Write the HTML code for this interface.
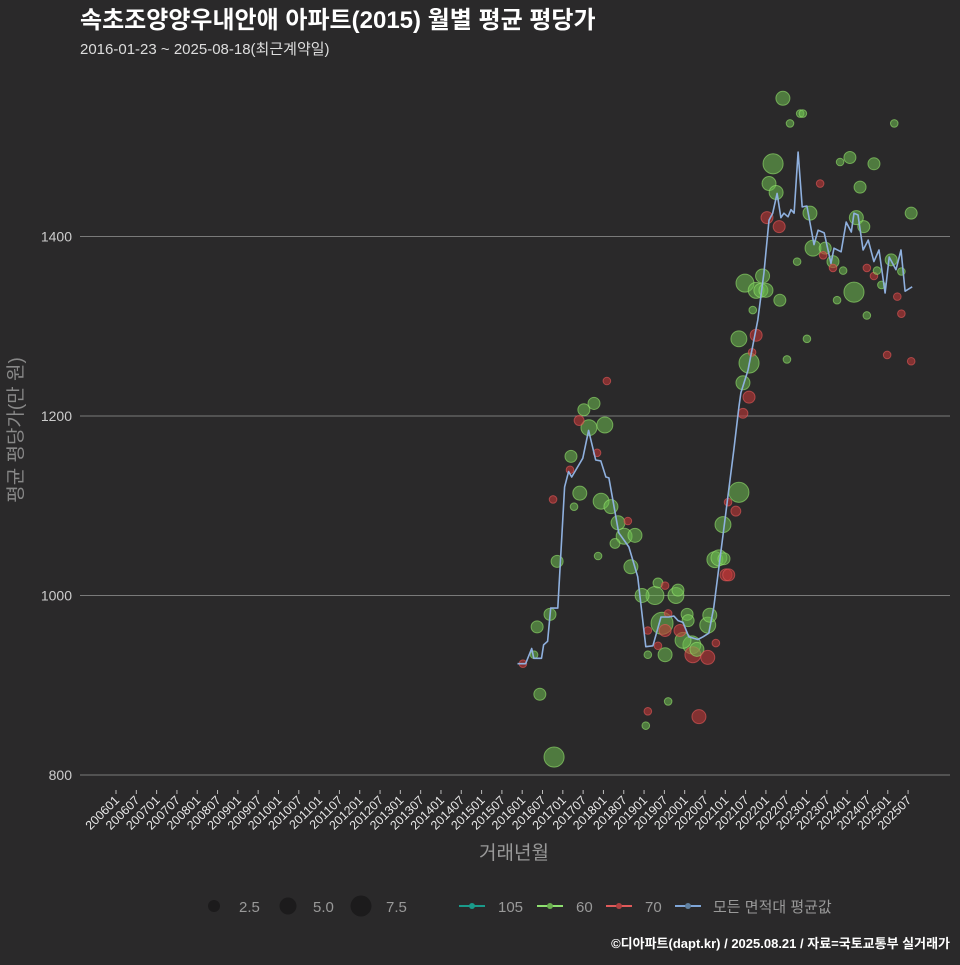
<!DOCTYPE html>
<html><head><meta charset="utf-8"><style>
body{margin:0;background:#2a292a;}
svg text{font-family:"Liberation Sans","Noto Sans CJK KR",sans-serif;}
</style></head><body>
<svg id="chart" width="960" height="960" xmlns="http://www.w3.org/2000/svg">
<rect width="960" height="960" fill="#2a292a"/>
<text x="80" y="28" font-size="24" font-weight="bold" fill="#ffffff">속초조양양우내안애 아파트(2015) 월별 평균 평당가</text>
<text x="80" y="54" font-size="15" fill="#dddddd">2016-01-23 ~ 2025-08-18(최근계약일)</text>
<g id="grid"></g>
<g id="xaxis"></g>
<g id="marks"></g>
<text transform="translate(22,430) rotate(-90)" text-anchor="middle" font-size="19" fill="#888">평균 평당가(만 원)</text>
<text x="514" y="859" text-anchor="middle" font-size="19" fill="#999">거래년월</text>
<g>
<circle cx="214" cy="906" r="6" fill="#1c1b1c"/>
<text x="239" y="912" font-size="15" fill="#999">2.5</text>
<circle cx="288" cy="906" r="8.5" fill="#1c1b1c"/>
<text x="313" y="912" font-size="15" fill="#999">5.0</text>
<circle cx="361" cy="906" r="10.5" fill="#1c1b1c"/>
<text x="386" y="912" font-size="15" fill="#999">7.5</text>
</g>
<g>
<g><line x1="459" y1="906" x2="485" y2="906" stroke="#1a9a8a" stroke-width="2"/><circle cx="472" cy="906" r="3" fill="#1a9a8a"/><text x="498" y="912" font-size="15" fill="#999">105</text></g>
<g><line x1="537" y1="906" x2="563" y2="906" stroke="#8ee070" stroke-width="2"/><circle cx="550" cy="906" r="3" fill="#6cb050"/><text x="576" y="912" font-size="15" fill="#999">60</text></g>
<g><line x1="606" y1="906" x2="632" y2="906" stroke="#e05a5a" stroke-width="2"/><circle cx="619" cy="906" r="3" fill="#b04040"/><text x="645" y="912" font-size="15" fill="#999">70</text></g>
<g><line x1="675" y1="906" x2="701" y2="906" stroke="#7fa6d8" stroke-width="2"/><circle cx="688" cy="906" r="3" fill="#6080a0"/><text x="713" y="912" font-size="15" fill="#999">모든 면적대 평균값</text></g>
</g>
<text x="950" y="948" text-anchor="end" font-size="13" font-weight="bold" fill="#ffffff">©디아파트(dapt.kr) / 2025.08.21 / 자료=국토교통부 실거래가</text>
</svg>
<script>
// month index: 0 = 2006-01 (fraction = part of month)
const yTicks = [800, 1000, 1200, 1400];
const lineMonth = [119.5,121.9,123.7,124.3,126.6,127.2,128.4,129.3,131.4,133.4,134.6,135.5,138.8,140.5,142.6,144.1,145.6,146.5,149.4,152.4,155,157.4,159.5,161.9,164.2,165.7,166.9,168.4,170.1,172.8,174.3,176,177.5,180.5,183.4,184.9,185.5,187.6,190.5,192.3,193.8,194.9,196.2,197.3,198.2,199.4,200.3,201.2,202.4,203.6,205,207.1,208.3,210.1,212.1,213,215.1,216.6,218.1,218.9,220.1,221.6,223.1,224.8,226.3,228.1,229.3,231.3,232.8,234,236.1];
const lineValue = [924,924,941,930,930,945,949,986,986,1121,1138,1132,1153,1184,1151,1150,1132,1131,1070,1054,1021,943,944,976,976,977,972,970,954,951,954,958,987,1076,1162,1210,1226,1251,1307,1359,1418,1426,1448,1421,1426,1422,1430,1426,1494,1433,1434,1391,1407,1404,1370,1387,1383,1416,1405,1426,1424,1385,1396,1372,1385,1337,1377,1363,1385,1339,1344];
const ptMonth = [130.3,126.1,125.3,124.4,121.1,129.1,131.2,130,135.3,135,137.9,136.2,139.1,142.1,140.6,145.3,137.7,143,145.9,144.2,147.1,149.2,151,148.3,154.2,152.1,153,143.3,156.3,160.1,161,166.3,166.9,162.2,163.1,163.1,158,161,158,163.1,164,164,158,157.4,173.1,169.6,169.9,167.5,168.4,171,171.3,172.5,175.7,176.3,175.7,178.1,177.8,179,181.1,180.2,181.7,180.5,181.9,184,184.9,187.9,184.9,190,188.8,186.1,187.9,186.1,186.7,190,189,191.9,191.4,192.9,197,195,193.8,195.9,193.2,196.8,197.9,200,203,203.8,205.9,202.1,205,199.1,208.9,206.8,210.4,209.8,212.7,212.7,215.7,213.9,214.8,217.7,220.7,224.8,219.6,221.8,218.9,222.7,222.7,224.8,225.7,227,229.9,230.8,232.9,231.7,232.9,228.7,235.8,235.8];
const ptValue = [820,890,965,934,924,979,1038,1107,1155,1140,1114,1099,1207,1214,1187,1190,1195,1159,1239,1105,1099,1081,1066,1058,1067,1083,1032,1044,1000,1000,1014,1000,1006,969,961,934,934,944,961,1011,980,882,871,855,865,979,972,961,950,945,934,940,967,978,931,947,1040,1042,1023,1079,1104,1041,1023,1094,1115,1259,1286,1290,1271,1237,1221,1203,1348,1340,1318,1356,1340,1340,1329,1481,1459,1449,1421,1411,1554,1526,1537,1537,1426,1372,1286,1263,1459,1387,1387,1379,1372,1365,1362,1329,1483,1488,1455,1481,1421,1411,1338,1312,1365,1356,1362,1346,1374,1526,1361,1333,1314,1268,1261,1426];
const ptCount = [7,2.5,2.5,1,1,2.5,2.5,1,2.5,1,3.4,1,2.5,2.5,4.4,4.4,1.7,1,1,4.4,3.4,3.4,4.4,1.7,3.4,1,3.4,1,3.4,5.6,1.7,4.4,2.5,8.4,2.5,3.4,1,1,1,1,1,1,1,1,3.4,2.5,2.5,2.5,4.4,5.6,4.4,3.4,4.4,3.4,3.4,1,4.4,4.4,2.5,4.4,1,2.5,2.5,1.7,7,7,4.4,2.5,1,3.4,2.5,1.7,5.6,4.4,1,3.4,3.4,3.4,2.5,7,3.4,3.4,2.5,2.5,3.4,1,1,1,3.4,1,1,1,1,4.4,2.5,1,2.5,1,1,1,1,2.5,2.5,2.5,3.4,2.5,7,1,1,1,1,1,2.5,1,1,1,1,1,1,2.5];
const ptType = ["60","60","60","60","70","60","60","70","60","70",
 "60","60","60","60","60","60","70","70","70","60",
 "60","60","60","60","60","70","60","60","60","60",
 "60","60","60","60","70","60","60","70","70","70",
 "70","60","70","60","70","60","60","70","60","60",
 "70","60","60","60","70","70","60","60","70","60",
 "70","60","70","70","60","60","60","70","70","60",
 "70","70","60","60","60","60","60","60","60","60",
 "60","60","70","70","60","60","60","60","60","60",
 "60","60","70","60","60","70","60","70","60","60",
 "60","60","60","60","60","60","60","60","70","70",
 "60","60","60","60","60","70","70","70","70","60"];

const NS="http://www.w3.org/2000/svg";
const X0=80, X1=950;
function xScale(m){return 113+m*3.385;}
function yScale(v){return 775-(v-800)*0.8975;}
function rScale(n){return 3.8*Math.sqrt(n);}
function mk(tag,attrs,parent){const e=document.createElementNS(NS,tag);for(const k in attrs)e.setAttribute(k,attrs[k]);parent.appendChild(e);return e;}

const grid=document.getElementById('grid');
yTicks.forEach(t=>{
  const l=mk('line',{x1:X0,x2:X1,y1:yScale(t),y2:yScale(t),stroke:'#7a7a7a','stroke-width':1},grid);
  
  
  const tx=mk('text',{x:72,y:yScale(t)+5,'text-anchor':'end','font-size':14,fill:'#cccccc'},grid);
  tx.textContent=t;
  
  
});
const xa=document.getElementById('xaxis');
for(let m=0;m<=234;m+=6){
  const x=xScale(m)+3;
  const tk=mk('line',{x1:x,x2:x,y1:790,y2:794,stroke:'#bbb','stroke-width':1},xa);
  
  
  const y=2006+Math.floor(m/12), mo=(m%12)+1;
  const lab=''+y+(mo<10?'0':'')+mo;
  const tx=mk('text',{x:x+4,y:801,'text-anchor':'end','font-size':12.5,fill:'#e8e8e8',transform:`rotate(-45 ${x+4} 801)`},xa);
  tx.textContent=lab;
  
  
}
const marks=document.getElementById('marks');
const order=ptCount.map((c,i)=>i).sort((a,b)=>ptCount[b]-ptCount[a]);
order.forEach(i=>{
  const g=ptType[i]==='60';
  const c=mk('circle',{cx:xScale(ptMonth[i]),cy:yScale(ptValue[i]),r:rScale(ptCount[i]),
    fill:g?'rgba(110,190,80,0.55)':'rgba(190,55,55,0.6)',
    stroke:g?'rgba(150,230,110,0.6)':'rgba(230,90,90,0.6)','stroke-width':1},marks);
  
  
});
const pts=lineMonth.map((m,i)=>xScale(m).toFixed(1)+','+yScale(lineValue[i]).toFixed(1)).join(' ');
const pl=mk('polyline',{points:pts,fill:'none',stroke:'#8fb0de','stroke-width':1.6,'stroke-linejoin':'round'},marks);


</script>
</body></html>
